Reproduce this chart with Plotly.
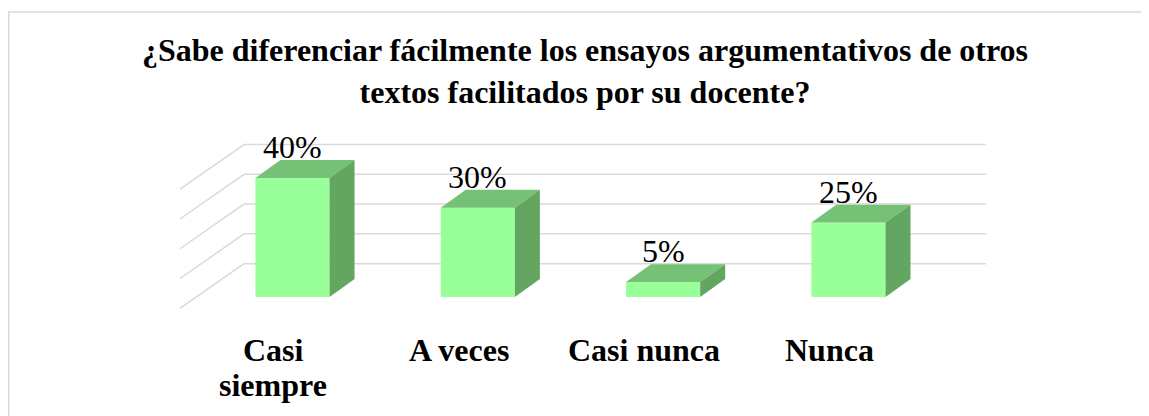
import plotly.graph_objects as go

# ---- data ----
categories = ["Casi<br>siempre", "A veces", "Casi nunca", "Nunca"]
values = [40, 30, 5, 25]
value_labels = ["40%", "30%", "5%", "25%"]
grid_values = [10, 20, 30, 40, 50]
title_text = "¿Sabe diferenciar fácilmente los ensayos argumentativos de otros<br>textos facilitados por su docente?"

# ---- style ----
SERIF = "Liberation Serif"
FRONT = "#99FF99"
TOP = "#75C175"
SIDE = "#62A662"
GRID = "#D9D9D9"
W = 0.40          # bar width (category units)
DDX = 0.135       # bar depth, x units
DDY = 6.0         # bar depth, y units
WALL_SHIFT = 1.2  # back wall gridlines shift (y units)
WALL_X0 = -0.262  # back-wall left x
WALL_X1 = 3.742   # back-wall right x
SIDE_X = -0.607   # side wall front x
SIDE_DY = 15.0    # side wall drop (y units)

xs = list(range(len(categories)))

fig = go.Figure()

# front faces of the bars
fig.add_trace(go.Bar(x=xs, y=values, width=W, marker=dict(color=FRONT, line=dict(width=0)),
                     hoverinfo="skip", showlegend=False))

# top and side faces (3D look)
for c, v in zip(xs, values):
    l, r = c - W / 2, c + W / 2
    fig.add_trace(go.Scatter(x=[l, r, r + DDX, l + DDX, l], y=[v, v, v + DDY, v + DDY, v],
                             fill="toself", fillcolor=TOP, mode="lines", line=dict(width=0, color=TOP),
                             hoverinfo="skip", showlegend=False))
    fig.add_trace(go.Scatter(x=[r, r + DDX, r + DDX, r, r], y=[0, DDY, v + DDY, v, 0],
                             fill="toself", fillcolor=SIDE, mode="lines", line=dict(width=0, color=SIDE),
                             hoverinfo="skip", showlegend=False))

# back-wall and side-wall gridlines
shapes = []
for g in grid_values:
    yb = g + WALL_SHIFT
    shapes.append(dict(type="line", xref="x", yref="y", x0=WALL_X0, x1=WALL_X1, y0=yb, y1=yb,
                       line=dict(color=GRID, width=1.5), layer="below"))
    shapes.append(dict(type="line", xref="x", yref="y", x0=WALL_X0, x1=SIDE_X, y0=yb, y1=yb - SIDE_DY,
                       line=dict(color=GRID, width=1.5), layer="below"))

# outer chart border
shapes.append(dict(type="rect", xref="paper", yref="paper", x0=-0.1943, x1=1.19, y0=-0.5, y1=1.59,
                   line=dict(color=GRID, width=1.5), fillcolor="rgba(0,0,0,0)", layer="below"))

annotations = []
for c, v, t in zip(xs, values, value_labels):
    annotations.append(dict(x=c, y=v + DDY, xref="x", yref="y", text=t, showarrow=False,
                            yanchor="bottom", yshift=-7,
                            font=dict(family=SERIF, size=32, color="#000000")))
for c, t in zip(xs, categories):
    for j, line in enumerate(t.split("<br>")):
        annotations.append(dict(x=c, y=0, xref="x", yref="y", text="<b>" + line + "</b>", showarrow=False,
                                yanchor="top", yshift=-33 - 35 * j, xshift=-19,
                                font=dict(family=SERIF, size=32, color="#000000")))

fig.update_layout(
    width=1141, height=408,
    margin=dict(l=162, r=149, t=122, b=86),
    paper_bgcolor="white", plot_bgcolor="rgba(0,0,0,0)",
    title=dict(text="<b>" + title_text + "</b>",
               x=0.5057, xanchor="center", xref="container", y=1 - 53 / 408, yanchor="top", yref="container",
               font=dict(family=SERIF, size=32, color="#000000")),
    xaxis=dict(range=[-0.661, 3.818], showgrid=False, zeroline=False, showticklabels=False, showline=False,
               fixedrange=True),
    yaxis=dict(range=[-11.1, 56.1], showgrid=False, zeroline=False, showticklabels=False, showline=False,
               fixedrange=True),
    shapes=shapes, annotations=annotations, showlegend=False,
)

fig.write_html("out.html")
